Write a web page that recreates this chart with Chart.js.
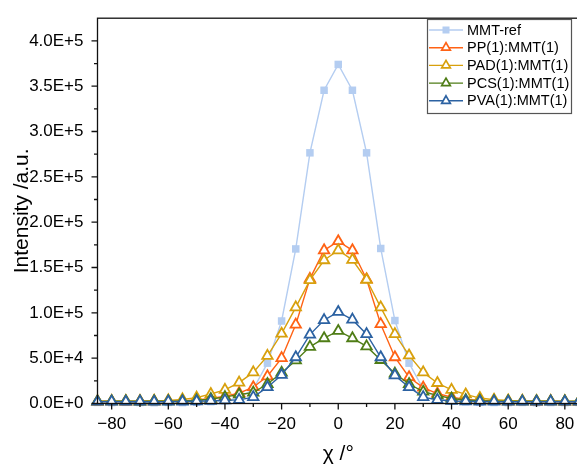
<!DOCTYPE html>
<html>
<head>
<meta charset="utf-8">
<script src="https://cdn.jsdelivr.net/npm/chart.js"></script>
<style>
  html, body { margin: 0; padding: 0; background: #fff; overflow: hidden; }
  #wrap { width: 580px; height: 467px; }
  canvas { display: block; }
</style>
</head>
<body>
<div id="wrap"><canvas id="c" width="580" height="467"></canvas></div>
<script>
// Azimuthal angle chi (degrees)
const chi = [-85, -80, -75, -70, -65, -60, -55, -50, -45, -40, -35, -30, -25, -20, -15, -10, -5,
             0, 5, 10, 15, 20, 25, 30, 35, 40, 45, 50, 55, 60, 65, 70, 75, 80, 85];

// Integrated intensity (a.u.) for each sample
const mmtRef = [1200, 1000, 1300, 1100, 900, 1200, 1000, 1400, 2000, 3000, 6000, 16000, 44500, 91000, 170500, 276500, 345500,
                374000, 345500, 276500, 171000, 91500, 44500, 16000, 5500, 2800, 1800, 1300, 1100, 1000, 1200, 900, 1100, 1000, 1200];
const ppMmt  = [2200, 2400, 2100, 2300, 2500, 2600, 3000, 3800, 5500, 8000, 11500, 18000, 30000, 50000, 87000, 137500, 169000,
                179000, 169000, 137000, 87500, 51000, 29000, 17500, 11000, 7000, 4500, 3500, 2800, 2500, 2300, 2200, 2400, 2200, 2100];
const padMmt = [2500, 2600, 2800, 2700, 3000, 3500, 4500, 6500, 10500, 15000, 23000, 34300, 52500, 77000, 106000, 136000, 158000,
                169000, 158500, 136500, 106000, 76500, 53000, 34300, 22600, 15000, 10000, 6000, 4200, 3300, 3000, 2800, 2600, 2500, 2500];
const pcsMmt = [2300, 2500, 2400, 2200, 2400, 2500, 2800, 3500, 5000, 7000, 10000, 12000, 21500, 34000, 47500, 62500, 72000,
                80000, 72000, 63000, 48000, 33000, 21500, 13000, 9000, 5500, 3800, 3000, 2600, 2400, 2300, 2500, 2400, 2300, 2400];
const pvaMmt = [2000, 2100, 2000, 2200, 2000, 2100, 2200, 2500, 3000, 3500, 4000, 7000, 18000, 31500, 51000, 76000, 92000,
                101000, 92500, 76500, 51000, 31000, 18000, 7000, 4000, 2800, 2500, 2200, 2100, 2000, 2100, 2000, 2100, 2000, 2000];

const seriesNames = ['MMT-ref', 'PP(1):MMT(1)', 'PAD(1):MMT(1)', 'PCS(1):MMT(1)', 'PVA(1):MMT(1)'];
const seriesValues = [mmtRef, ppMmt, padMmt, pcsMmt, pvaMmt];
const seriesColors = ['#b4cdf1', '#ff6214', '#d8a00c', '#4f7d16', '#2c62a2'];

// Axis ticks: labelled majors plus unlabelled minors
const xTicks = [-80, -70, -60, -50, -40, -30, -20, -10, 0, 10, 20, 30, 40, 50, 60, 70, 80];
const xMajorStep = 20;
const yTicks = [0, 25000, 50000, 75000, 100000, 125000, 150000, 175000, 200000, 225000, 250000,
                275000, 300000, 325000, 350000, 375000, 400000];
const yMajorStep = 50000;

const FONT = '"Liberation Sans", Arial, Helvetica, sans-serif';

function makeDataset(i) {
  const isRef = i === 0;
  return {
    label: seriesNames[i],
    data: chi.map((a, k) => ({ x: a, y: seriesValues[i][k] })),
    borderColor: seriesColors[i],
    backgroundColor: seriesColors[i],
    borderWidth: 1.4,
    pointStyle: isRef ? 'rect' : 'triangle',
    pointRadius: isRef ? 5.3 : 6,
    pointBorderWidth: isRef ? 0 : 1.8,
    pointBorderColor: seriesColors[i],
    pointBackgroundColor: isRef ? seriesColors[i] : '#ffffff',
    tension: 0,
    clip: false,
    order: seriesNames.length - i
  };
}

// Frame around the plot plus outward major/minor tick marks
const frameTicks = {
  id: 'frameTicks',
  afterDatasetsDraw(chart) {
    const { ctx, chartArea: a, scales: { x, y } } = chart;
    ctx.save();
    ctx.strokeStyle = '#111';
    ctx.lineWidth = 1.3;
    ctx.strokeRect(a.left, a.top, a.right - a.left, a.bottom - a.top);
    ctx.beginPath();
    x.ticks.forEach(t => {
      const px = x.getPixelForValue(t.value);
      const len = t.value % xMajorStep === 0 ? 6 : 3.5;
      ctx.moveTo(px, a.bottom);
      ctx.lineTo(px, a.bottom + len);
    });
    y.ticks.forEach(t => {
      const py = y.getPixelForValue(t.value);
      const len = t.value % yMajorStep === 0 ? 6 : 3.5;
      ctx.moveTo(a.left, py);
      ctx.lineTo(a.left - len, py);
    });
    ctx.stroke();
    ctx.restore();
  }
};

// Boxed legend in the upper right corner of the plot
const boxedLegend = {
  id: 'boxedLegend',
  afterDraw(chart) {
    const ctx = chart.ctx;
    const bx = 427.5, by = 19.5, bw = 144, bh = 94;
    ctx.save();
    ctx.fillStyle = '#fff';
    ctx.fillRect(bx, by, bw, bh);
    ctx.strokeStyle = '#555';
    ctx.lineWidth = 1.2;
    ctx.strokeRect(bx, by, bw, bh);
    chart.data.datasets.forEach((ds, i) => {
      const cy = 30 + i * 17.7;
      ctx.strokeStyle = ds.borderColor;
      ctx.lineWidth = ds.borderWidth;
      ctx.beginPath();
      ctx.moveTo(429, cy);
      ctx.lineTo(463, cy);
      ctx.stroke();
      const mx = 446;
      if (ds.pointStyle === 'rect') {
        ctx.fillStyle = ds.pointBackgroundColor;
        ctx.fillRect(mx - 3.5, cy - 3.5, 7, 7);
      } else {
        const r = 5;
        ctx.beginPath();
        ctx.moveTo(mx, cy - r);
        ctx.lineTo(mx + r * 0.866, cy + r / 2);
        ctx.lineTo(mx - r * 0.866, cy + r / 2);
        ctx.closePath();
        ctx.fillStyle = '#fff';
        ctx.fill();
        ctx.lineWidth = 1.7;
        ctx.strokeStyle = ds.pointBorderColor;
        ctx.stroke();
      }
      ctx.fillStyle = '#000';
      ctx.font = '14.5px ' + FONT;
      ctx.textBaseline = 'middle';
      ctx.textAlign = 'left';
      ctx.fillText(ds.label, 467, cy + 0.5);
    });
    ctx.restore();
  }
};

Chart.defaults.color = '#000';
Chart.defaults.font.family = FONT;

new Chart(document.getElementById('c'), {
  type: 'line',
  data: { datasets: seriesNames.map((_, i) => makeDataset(i)) },
  options: {
    responsive: false,
    animation: false,
    events: [],
    layout: { autoPadding: false, padding: { top: 15.7, right: 1, bottom: 0, left: 0 } },
    plugins: { legend: { display: false }, tooltip: { enabled: false } },
    scales: {
      x: {
        type: 'linear',
        min: -85,
        max: 85,
        grid: { display: false, drawTicks: true, tickLength: 6 },
        border: { display: false },
        afterBuildTicks: s => { s.ticks = xTicks.map(v => ({ value: v })); },
        ticks: {
          autoSkip: false,
          maxRotation: 0,
          padding: 5,
          font: { size: 17 },
          callback: v => {
            if (v % xMajorStep !== 0) return '';
            return v < 0 ? '\u2212' + Math.abs(v) : String(v);
          }
        },
        title: { display: true, text: 'χ /°', font: { size: 21 }, padding: { top: 0, bottom: 0 } },
        afterFit: s => { s.height = 63.5; }
      },
      y: {
        min: 0,
        max: 425000,
        grid: { display: false, drawTicks: true, tickLength: 6 },
        border: { display: false },
        afterBuildTicks: s => { s.ticks = yTicks.map(v => ({ value: v })); },
        ticks: {
          autoSkip: false,
          padding: 8,
          font: { size: 17 },
          callback: v => (v % yMajorStep !== 0 ? '' : v.toExponential(1).toUpperCase())
        },
        title: { display: true, text: 'Intensity /a.u.', font: { size: 21 }, padding: { top: 9.5, bottom: 0 } },
        afterFit: s => { s.width = 97.5; }
      }
    }
  },
  plugins: [frameTicks, boxedLegend]
});
</script>
</body>
</html>
